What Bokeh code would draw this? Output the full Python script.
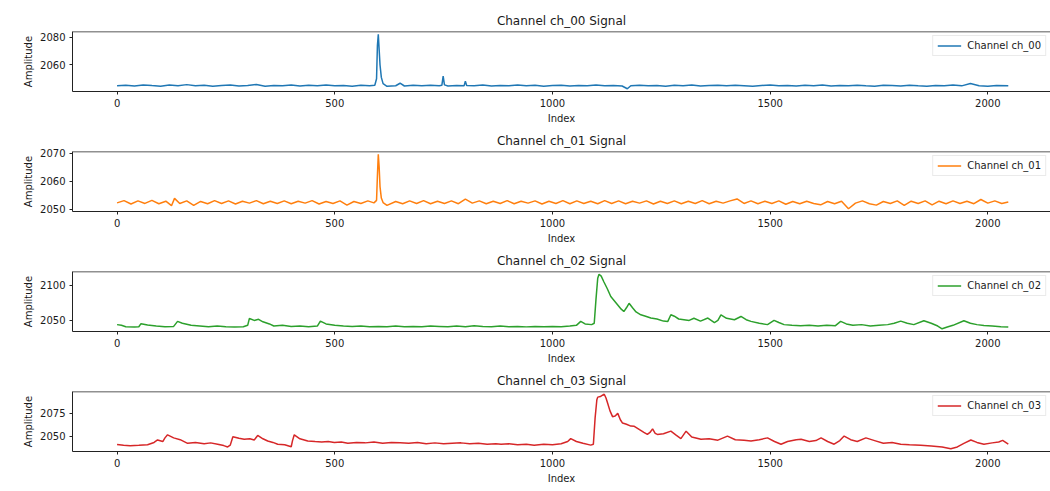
from bokeh.plotting import figure
from bokeh.layouts import column
from bokeh.models import Range1d, FixedTicker, Span
from bokeh.embed import file_html
from bokeh.resources import INLINE

channels = ["ch_00", "ch_01", "ch_02", "ch_03"]
colors = ["#1f77b4", "#ff7f0e", "#2ca02c", "#d62728"]
n_samples = 2048
x_ticks = [0, 500, 1000, 1500, 2000]
y_ticks = {
    "ch_00": [2060, 2080],
    "ch_01": [2050, 2060, 2070],
    "ch_02": [2050, 2100],
    "ch_03": [2050, 2075],
}

# (index, amplitude) pairs
ch00_points = [(0,2045.0),(20,2045.4),(40,2044.8),(60,2045.6),(80,2045.1),(100,2044.7),(120,2045.5),(140,2045.0),(160,2045.8),(180,2044.9),(200,2045.3),(220,2044.6),(240,2045.2),(260,2045.6),(280,2044.8),(300,2045.1),(320,2045.9),(340,2044.7),(360,2045.2),(380,2045.0),(400,2045.5),(420,2044.8),(440,2045.3),(460,2045.0),(480,2045.6),(500,2044.9),(520,2045.2),(540,2044.7),(560,2045.4),(580,2045.0),(592,2045.3),(596,2050.0),(598,2074.0),(600,2082.2),(602,2071.0),(604,2060.0),(607,2051.0),(611,2046.5),(620,2044.6),(640,2045.0),(650,2046.8),(660,2044.8),(680,2045.3),(700,2044.9),(720,2045.4),(740,2045.0),(746,2045.3),(749,2052.0),(752,2045.6),(760,2044.8),(780,2045.2),(797,2044.9),(800,2048.2),(803,2045.2),(820,2045.0),(840,2045.5),(860,2044.8),(880,2045.2),(900,2045.0),(920,2045.6),(940,2044.9),(960,2045.3),(980,2044.7),(1000,2045.1),(1020,2045.4),(1040,2044.8),(1060,2045.2),(1080,2045.0),(1100,2045.5),(1120,2044.9),(1140,2045.2),(1160,2044.8),(1172,2042.8),(1180,2045.0),(1200,2045.4),(1220,2044.9),(1240,2045.2),(1260,2044.7),(1280,2045.3),(1300,2045.0),(1320,2045.6),(1340,2044.8),(1360,2045.1),(1380,2045.4),(1400,2044.9),(1420,2045.3),(1440,2045.0),(1460,2044.7),(1480,2045.2),(1500,2045.5),(1520,2044.9),(1540,2045.1),(1560,2044.8),(1580,2045.3),(1600,2045.0),(1620,2045.6),(1640,2044.8),(1660,2045.2),(1680,2044.9),(1700,2045.4),(1720,2045.0),(1740,2044.7),(1760,2045.3),(1780,2045.1),(1800,2044.8),(1820,2045.4),(1840,2045.0),(1860,2044.7),(1880,2045.2),(1900,2045.0),(1920,2045.5),(1940,2044.9),(1960,2046.6),(1980,2045.0),(2000,2044.7),(2020,2045.2),(2047,2045.0)]

ch01_points = [(0,2052.3),(16,2053.1),(32,2051.9),(48,2053.0),(64,2052.1),(80,2053.2),(96,2052.0),(112,2052.9),(125,2051.3),(132,2053.9),(144,2052.1),(160,2053.0),(176,2051.4),(192,2052.8),(208,2052.0),(224,2053.1),(240,2052.1),(256,2053.0),(272,2051.9),(288,2052.9),(304,2052.2),(320,2053.1),(336,2052.0),(352,2052.9),(368,2052.1),(384,2053.0),(400,2052.0),(416,2052.9),(432,2052.2),(448,2053.1),(464,2051.9),(480,2052.8),(496,2052.1),(512,2053.0),(528,2051.5),(544,2052.8),(560,2052.1),(576,2053.0),(590,2052.3),(596,2053.2),(598,2062.0),(600,2069.6),(602,2065.0),(604,2058.0),(607,2054.0),(611,2052.4),(620,2051.4),(640,2052.8),(656,2052.0),(672,2053.0),(688,2052.1),(704,2053.1),(720,2052.0),(736,2052.9),(752,2052.1),(768,2053.0),(784,2052.0),(800,2053.6),(816,2052.2),(832,2053.0),(848,2052.0),(864,2052.9),(880,2052.1),(896,2053.1),(912,2052.0),(928,2052.9),(944,2052.2),(960,2053.0),(976,2051.9),(992,2052.9),(1008,2052.1),(1024,2053.1),(1040,2052.0),(1056,2053.0),(1072,2052.1),(1088,2052.9),(1104,2052.0),(1120,2053.1),(1136,2052.1),(1152,2053.0),(1168,2052.0),(1184,2052.9),(1200,2052.2),(1216,2053.0),(1232,2051.9),(1248,2052.9),(1264,2052.1),(1280,2053.0),(1296,2052.0),(1312,2052.9),(1328,2052.1),(1344,2053.1),(1360,2052.0),(1376,2052.9),(1392,2052.2),(1408,2053.0),(1424,2053.7),(1440,2052.1),(1456,2053.0),(1472,2052.0),(1488,2052.9),(1504,2052.1),(1520,2053.0),(1536,2051.8),(1552,2052.8),(1568,2052.0),(1584,2052.9),(1600,2052.1),(1616,2051.6),(1632,2052.8),(1648,2052.0),(1664,2052.9),(1680,2050.2),(1696,2052.2),(1712,2053.0),(1728,2052.0),(1744,2051.5),(1760,2052.8),(1776,2052.1),(1792,2053.0),(1808,2051.4),(1824,2052.9),(1840,2052.1),(1856,2053.0),(1872,2051.6),(1888,2052.9),(1904,2052.0),(1920,2053.0),(1936,2052.1),(1952,2052.9),(1968,2052.0),(1984,2053.5),(2000,2052.2),(2016,2053.0),(2032,2052.1),(2047,2052.6)]

ch02_points = [(0,2044.0),(10,2043.0),(20,2041.0),(40,2040.5),(50,2041.0),(55,2045.4),(70,2043.5),(90,2042.0),(110,2041.0),(130,2041.5),(139,2048.6),(150,2046.0),(170,2043.0),(190,2042.0),(210,2041.0),(230,2042.0),(250,2041.0),(270,2040.5),(290,2041.0),(300,2043.0),(304,2052.8),(315,2050.0),(325,2051.5),(335,2048.0),(350,2045.0),(360,2042.0),(380,2043.0),(400,2041.5),(420,2042.0),(440,2041.0),(460,2042.0),(467,2049.0),(480,2045.0),(500,2043.0),(520,2042.0),(540,2041.5),(560,2042.0),(580,2041.0),(600,2041.5),(620,2041.0),(640,2042.0),(660,2041.0),(680,2041.5),(700,2041.0),(720,2042.0),(740,2041.5),(760,2041.0),(780,2042.0),(800,2041.0),(820,2042.5),(840,2041.5),(860,2041.0),(880,2042.0),(900,2041.0),(920,2041.5),(940,2040.8),(960,2041.5),(980,2041.0),(1000,2041.5),(1020,2041.0),(1040,2042.0),(1055,2043.0),(1065,2048.6),(1075,2045.0),(1090,2044.0),(1096,2046.0),(1100,2080.0),(1104,2110.0),(1107,2115.7),(1112,2113.0),(1118,2105.0),(1126,2095.0),(1134,2084.0),(1142,2078.0),(1150,2072.0),(1158,2066.0),(1164,2062.6),(1170,2068.0),(1176,2074.4),(1184,2068.0),(1192,2062.0),(1203,2058.0),(1214,2056.0),(1226,2053.4),(1240,2052.0),(1255,2049.0),(1265,2048.6),(1272,2058.0),(1280,2056.0),(1290,2052.0),(1302,2051.0),(1314,2050.0),(1325,2053.0),(1340,2049.0),(1357,2053.4),(1372,2047.0),(1380,2050.0),(1387,2058.0),(1400,2053.0),(1418,2051.0),(1433,2055.6),(1445,2051.0),(1456,2048.6),(1475,2046.0),(1494,2044.0),(1509,2050.0),(1520,2047.0),(1532,2044.0),(1550,2043.0),(1570,2042.5),(1590,2043.0),(1610,2042.0),(1630,2043.0),(1650,2042.5),(1662,2048.6),(1675,2045.0),(1690,2043.0),(1710,2044.0),(1730,2042.0),(1750,2043.0),(1770,2044.0),(1785,2046.0),(1800,2049.0),(1815,2046.0),(1830,2044.0),(1853,2049.6),(1870,2046.0),(1885,2042.0),(1895,2038.1),(1907,2040.7),(1920,2043.0),(1945,2049.6),(1960,2046.0),(1975,2044.0),(1991,2042.6),(2010,2042.0),(2030,2041.0),(2047,2040.7)]

ch03_points = [(0,2040.8),(15,2040.0),(30,2039.3),(50,2039.8),(70,2040.5),(85,2043.0),(93,2045.7),(105,2044.0),(110,2048.0),(116,2051.4),(130,2048.0),(145,2046.0),(162,2042.0),(180,2043.0),(200,2041.5),(215,2042.5),(231,2041.0),(245,2039.5),(254,2038.0),(260,2040.0),(266,2049.3),(280,2047.5),(292,2046.5),(305,2047.0),(315,2045.7),(323,2050.7),(335,2047.0),(346,2044.6),(358,2043.0),(369,2041.0),(385,2040.5),(400,2038.2),(403,2045.0),(407,2051.4),(420,2047.0),(438,2044.6),(455,2044.0),(470,2043.5),(485,2044.0),(499,2043.0),(515,2043.5),(530,2042.0),(550,2043.0),(570,2042.5),(590,2043.5),(610,2042.0),(630,2043.0),(650,2042.5),(670,2042.0),(690,2043.0),(710,2041.5),(730,2042.5),(750,2041.5),(770,2042.0),(790,2042.5),(810,2041.5),(830,2042.0),(850,2041.0),(870,2041.5),(882,2041.0),(900,2041.5),(920,2040.5),(940,2041.0),(958,2040.0),(980,2041.0),(1000,2040.5),(1020,2041.5),(1035,2044.0),(1042,2047.2),(1055,2044.0),(1070,2042.0),(1088,2040.0),(1094,2041.0),(1098,2070.0),(1102,2090.0),(1104,2092.9),(1110,2093.5),(1115,2095.0),(1119,2096.1),(1123,2092.0),(1127,2085.8),(1132,2078.0),(1138,2071.4),(1144,2072.0),(1150,2075.0),(1156,2068.0),(1161,2064.3),(1170,2063.0),(1180,2061.0),(1188,2060.7),(1200,2057.0),(1210,2054.0),(1218,2051.8),(1224,2054.0),(1230,2057.9),(1236,2053.0),(1241,2051.8),(1255,2052.5),(1272,2055.4),(1284,2051.0),(1295,2047.2),(1307,2055.4),(1320,2049.0),(1341,2046.5),(1360,2047.0),(1380,2045.5),(1402,2050.0),(1420,2046.0),(1440,2045.5),(1456,2044.6),(1475,2046.0),(1494,2048.0),(1510,2044.0),(1525,2041.0),(1540,2044.0),(1560,2046.0),(1571,2046.5),(1590,2044.0),(1605,2045.0),(1617,2048.0),(1632,2044.0),(1647,2041.0),(1660,2045.0),(1670,2050.0),(1685,2046.0),(1700,2044.0),(1720,2048.0),(1740,2045.0),(1760,2042.0),(1780,2043.0),(1800,2041.0),(1820,2040.5),(1846,2040.0),(1870,2039.0),(1895,2038.0),(1915,2036.0),(1930,2038.0),(1945,2042.0),(1961,2045.7),(1975,2043.0),(1991,2041.0),(2010,2042.5),(2025,2043.5),(2034,2045.2),(2047,2041.0)]

series = [ch00_points, ch01_points, ch02_points, ch03_points]

FONT = "DejaVu Sans"
TXT = "#1a1a1a"
SPINE = "#222222"
figs = []
for i, (ch, color, pts) in enumerate(zip(channels, colors, series)):
    xs = [p_[0] for p_ in pts]
    ys = [p_[1] for p_ in pts]
    lo, hi = min(ys), max(ys)
    m = 0.05 * (hi - lo)
    xm = 0.05 * (n_samples - 1)
    top = 31 if i == 0 else 25
    p = figure(width=1050, height=top + 61 + 34, output_backend="svg",
               toolbar_location=None, title=f"Channel {ch} Signal",
               x_range=Range1d(-xm, n_samples - 1 + xm - 5.4),
               y_range=Range1d(lo - m, hi + m),
               min_border_left=72, min_border_right=0,
               min_border_top=top, min_border_bottom=34)
    p.line(xs, ys, color=color, line_width=1.5, legend_label=f"Channel {ch}")
    p.xgrid.visible = False
    p.ygrid.visible = False
    p.outline_line_color = None
    p.add_layout(Span(location=hi + m, dimension="width", line_color=SPINE, line_width=1.5))
    p.title.align = "center"
    p.title.text_font = FONT
    p.title.text_font_size = "12px"
    p.title.text_font_style = "normal"
    p.title.text_color = TXT
    p.title.standoff = 7
    p.xaxis.ticker = FixedTicker(ticks=x_ticks)
    p.yaxis.ticker = FixedTicker(ticks=y_ticks[ch])
    p.xaxis.axis_label = "Index"
    p.yaxis.axis_label = "Amplitude"
    for ax in (p.xaxis[0], p.yaxis[0]):
        ax.axis_line_color = SPINE
        ax.axis_line_width = 1
        ax.major_tick_out = 3
        ax.major_tick_in = 0
        ax.major_tick_line_color = SPINE
        ax.minor_tick_line_color = None
        ax.major_label_text_font = FONT
        ax.major_label_text_font_size = "10px"
        ax.major_label_text_color = TXT
        ax.major_label_standoff = 4
        ax.axis_label_text_font = FONT
        ax.axis_label_text_font_size = "10px"
        ax.axis_label_text_font_style = "normal"
        ax.axis_label_text_color = TXT
        ax.axis_label_standoff = 3
    p.legend.location = "top_right"
    p.legend.margin = 4
    p.legend.padding = 4
    p.legend.spacing = 0
    p.legend.label_text_font = FONT
    p.legend.label_text_font_size = "10px"
    p.legend.label_text_color = TXT
    p.legend.label_height = 11
    p.legend.glyph_height = 11
    p.legend.glyph_width = 24
    p.legend.label_standoff = 6
    p.legend.border_line_color = "#d5d5d5"
    p.legend.background_fill_alpha = 0.8
    figs.append(p)

layout = column(*figs, spacing=0)
open("out.html", "w").write(file_html(layout, INLINE))
